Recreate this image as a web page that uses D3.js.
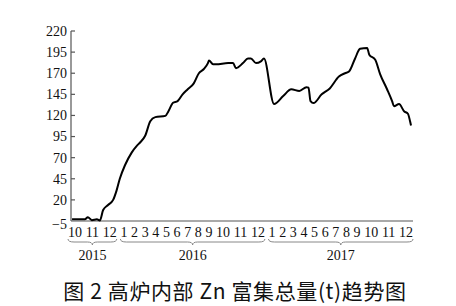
<!DOCTYPE html>
<html>
<head>
<meta charset="utf-8">
<script src="https://cdn.jsdelivr.net/npm/d3@7"></script>
<style>
    body { margin: 0; background: #fff; }
    .tick-label { font-family: "Liberation Serif", "Times New Roman", serif; font-size: 14px; fill: #111; }
    .caption { font-family: "Noto Sans CJK SC", sans-serif; font-size: 21px; letter-spacing: 0.6px; fill: #111; }
</style>
</head>
<body>
<svg id="chart" width="456" height="306"></svg>
<script>
const monthLabels = ["10", "11", "12",
    "1", "2", "3", "4", "5", "6", "7", "8", "9", "10", "11", "12",
    "1", "2", "3", "4", "5", "6", "7", "8", "9", "10", "11", "12"];
const yearLabels = ["2015", "2016", "2017"];
const yearFirst = [0, 3, 15];
const yearLast = [2, 14, 26];
const yTicks = [-5, 20, 45, 70, 95, 120, 145, 170, 195, 220];

// month index (fractional) and Zn total (t)
const trendT = [-0.17, 0.57, 0.74, 0.97, 1.26, 1.43, 1.62, 1.9, 2.24, 2.48, 2.71, 3.1,
    3.73, 4.21, 4.52, 5.0, 5.48, 5.95, 6.9, 7.19, 7.62, 8.05, 8.52, 9.0, 9.57, 10.05,
    10.52, 10.9, 11.0, 11.29, 11.5, 12.29, 12.57, 12.74, 13.14, 13.43, 13.6, 13.89,
    14.21, 14.43, 15.19, 16.05, 16.81, 17.57, 18.24, 18.43, 18.62, 18.9, 19.67, 20.43,
    21.29, 21.86, 22.24, 22.81, 23.21, 23.71, 23.86, 24.23, 24.51, 24.91, 25.2, 25.31,
    25.6, 25.89, 26.11, 26.23, 26.29];
const trendV = [-3, -3, -0.5, -4, -3, -4.5, 8, 14, 20, 31, 45, 61,
    76, 84, 88, 96, 113, 118, 119.5, 125, 135, 137, 145, 151, 158, 170,
    175, 182, 185, 180.5, 180.5, 182, 182, 176, 182, 187.5, 187.5, 182,
    184, 187.5, 133.5, 143, 151, 149, 153.5, 153, 137, 134.7, 145, 152,
    166, 170, 172, 187.5, 199, 200, 192, 186, 169, 151, 137, 131,
    133.5, 125, 122, 113.5, 108];

const attr = {
    axisX: 71,
    axisRight: 413,
    labelLeft: 68,
    top: 31,
    bottom: 221,
    monthBase: 237,
    braceTop: 239,
    yearBase: 260
};

const svg = d3.select("#chart");

const y = d3.scaleLinear().domain([-5, 220]).range([attr.bottom, attr.top]);

// month labels laid out like a spaced text row
const labels = svg.append("g")
    .selectAll("text")
    .data(monthLabels)
    .enter()
    .append("text")
    .attr("class", "tick-label")
    .attr("text-anchor", "middle")
    .attr("y", attr.monthBase)
    .text(d => d);

const widths = labels.nodes().map(n => n.getComputedTextLength());
const gap = (attr.axisRight - attr.labelLeft - d3.sum(widths)) / (widths.length - 1);
let edge = attr.labelLeft;
const lefts = [], rights = [], centers = [];
widths.forEach(function(w) {
    lefts.push(edge);
    centers.push(edge + w / 2);
    rights.push(edge + w);
    edge += w + gap;
});

const x = d3.scaleLinear().domain(d3.range(monthLabels.length)).range(centers);
labels.attr("x", (d, i) => x(i));

// axes
svg.append("line")
    .attr("x1", attr.axisX).attr("x2", attr.axisX)
    .attr("y1", attr.top).attr("y2", attr.bottom)
    .attr("stroke", "#555").attr("stroke-width", 1.2);
svg.append("line")
    .attr("x1", attr.axisX).attr("x2", attr.axisRight)
    .attr("y1", attr.bottom).attr("y2", attr.bottom)
    .attr("stroke", "#555").attr("stroke-width", 1.2);

const yg = svg.append("g");
yg.selectAll("line")
    .data(yTicks.slice(1))
    .enter()
    .append("line")
    .attr("x1", attr.axisX).attr("x2", attr.axisX + 4)
    .attr("y1", d => y(d)).attr("y2", d => y(d))
    .attr("stroke", "#555").attr("stroke-width", 1.2);
yg.selectAll("text")
    .data(yTicks)
    .enter()
    .append("text")
    .attr("class", "tick-label")
    .attr("text-anchor", "end")
    .attr("x", 67)
    .attr("y", d => y(d) + (d < 0 ? 3 : 0))
    .attr("dy", "0.35em")
    .text(d => d < 0 ? "\u2212" + Math.abs(d) : d);

// year braces
const brace = function(x0, x1, top) {
    let m = (x0 + x1) / 2, b = top + 3;
    return "M" + x0 + "," + top +
        " Q" + x0 + "," + b + " " + (x0 + 6) + "," + b +
        " L" + (m - 5) + "," + b +
        " Q" + m + "," + b + " " + m + "," + (b + 3) +
        " Q" + m + "," + b + " " + (m + 5) + "," + b +
        " L" + (x1 - 6) + "," + b +
        " Q" + x1 + "," + b + " " + x1 + "," + top;
};

const years = svg.append("g");
yearLabels.forEach(function(label, i) {
    let x0 = lefts[yearFirst[i]], x1 = rights[yearLast[i]];
    years.append("path")
        .attr("d", brace(x0, x1, attr.braceTop))
        .attr("fill", "none")
        .attr("stroke", "#888")
        .attr("stroke-width", 1);
    years.append("text")
        .attr("class", "tick-label")
        .attr("text-anchor", "middle")
        .attr("x", (x0 + x1) / 2)
        .attr("y", attr.yearBase)
        .text(label);
});

// trend line
const line = d3.line()
    .x(i => x(trendT[i]))
    .y(i => y(trendV[i]))
    .curve(d3.curveMonotoneX);

svg.append("path")
    .datum(d3.range(trendT.length))
    .attr("d", line)
    .attr("fill", "none")
    .attr("stroke", "#000")
    .attr("stroke-width", 2)
    .attr("stroke-linejoin", "round");

svg.append("text")
    .attr("class", "caption")
    .attr("text-anchor", "middle")
    .attr("x", 235)
    .attr("y", 299)
    .text("图 2  高炉内部 Zn 富集总量(t)趋势图");
</script>
</body>
</html>
